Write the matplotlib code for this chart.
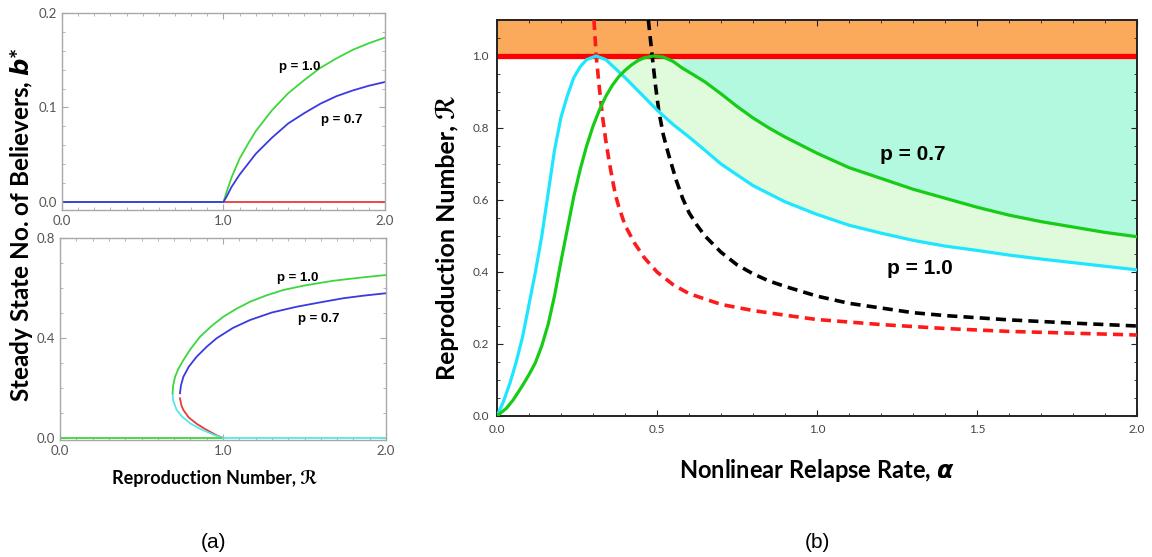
import matplotlib
matplotlib.use("Agg")
import matplotlib.pyplot as plt
from matplotlib.ticker import MultipleLocator, FixedLocator

# ---------------- data: panel (a) top ----------------
top_R_p10 = [1.0, 1.02, 1.05, 1.1, 1.15, 1.2, 1.3, 1.4, 1.5, 1.6, 1.7, 1.8, 1.9, 2.0]
top_b_p10 = [0.0, 0.011, 0.026, 0.046, 0.061, 0.075, 0.097, 0.115, 0.129, 0.142,
             0.152, 0.161, 0.168, 0.174]
top_R_p07 = [1.0, 1.02, 1.05, 1.1, 1.15, 1.2, 1.3, 1.4, 1.5, 1.6, 1.7, 1.8, 1.9, 2.0]
top_b_p07 = [0.0, 0.006, 0.016, 0.029, 0.040, 0.051, 0.068, 0.083, 0.094, 0.104,
             0.112, 0.118, 0.123, 0.127]
zero_left = [0.0, 1.0]
zero_right = [1.0, 2.0]

# ---------------- data: panel (a) bottom ----------------
bot_R_p10_up = [0.691, 0.694, 0.706, 0.725, 0.757, 0.80, 0.859, 0.93, 1.002, 1.08,
                1.166, 1.26, 1.37, 1.5, 1.677, 1.85, 2.0]
bot_b_p10_up = [0.179, 0.21, 0.245, 0.275, 0.312, 0.355, 0.405, 0.448, 0.485, 0.516,
                0.545, 0.569, 0.592, 0.61, 0.629, 0.642, 0.652]
bot_R_p10_lo = [0.691, 0.694, 0.70, 0.716, 0.75, 0.798, 0.85, 0.9, 0.95, 1.0]
bot_b_p10_lo = [0.175, 0.15, 0.139, 0.112, 0.085, 0.059, 0.04, 0.025, 0.011, 0.0]
bot_R_p07_up = [0.736, 0.742, 0.757, 0.79, 0.838, 0.9, 0.961, 1.06, 1.166, 1.3,
                1.452, 1.6, 1.738, 1.87, 2.0]
bot_b_p07_up = [0.179, 0.21, 0.245, 0.285, 0.325, 0.365, 0.399, 0.44, 0.472, 0.502,
                0.525, 0.543, 0.559, 0.57, 0.579]
bot_R_p07_lo = [0.736, 0.745, 0.757, 0.79, 0.838, 0.88, 0.92, 0.96, 1.0]
bot_b_p07_lo = [0.159, 0.13, 0.112, 0.082, 0.057, 0.04, 0.025, 0.011, 0.0]

# ---------------- data: panel (b) ----------------
alpha_p10 = [0.0, 0.02, 0.04, 0.06, 0.08, 0.10, 0.12, 0.14, 0.16, 0.18, 0.20, 0.22,
             0.24, 0.26, 0.28, 0.31, 0.34, 0.37, 0.40, 0.45, 0.50, 0.55, 0.60, 0.65,
             0.70, 0.80, 0.90, 1.0, 1.1, 1.2, 1.3, 1.4, 1.5, 1.6, 1.7, 1.8, 1.9, 2.0]
R_p10 = [0.0, 0.04, 0.09, 0.15, 0.22, 0.31, 0.40, 0.50, 0.62, 0.74, 0.83, 0.89,
         0.94, 0.97, 0.99, 1.0, 0.99, 0.965, 0.94, 0.895, 0.85, 0.81, 0.775, 0.738,
         0.70, 0.64, 0.595, 0.56, 0.53, 0.508, 0.488, 0.472, 0.46, 0.447, 0.436,
         0.426, 0.416, 0.406]
alpha_p07 = [0.0, 0.03, 0.05, 0.08, 0.10, 0.12, 0.14, 0.16, 0.18, 0.20, 0.22, 0.24,
             0.26, 0.28, 0.30, 0.32, 0.34, 0.36, 0.38, 0.40, 0.42, 0.44, 0.46, 0.49,
             0.52, 0.55, 0.58, 0.61, 0.65, 0.70, 0.75, 0.80, 0.85, 0.90, 1.0, 1.1,
             1.2, 1.3, 1.4, 1.5, 1.6, 1.7, 1.8, 1.9, 2.0]
R_p07 = [0.0, 0.022, 0.044, 0.085, 0.115, 0.148, 0.195, 0.255, 0.335, 0.43, 0.52, 0.61,
         0.685, 0.75, 0.805, 0.85, 0.888, 0.918, 0.942, 0.96, 0.975, 0.987, 0.995,
         1.0, 0.997, 0.985, 0.966, 0.95, 0.928, 0.895, 0.86, 0.828, 0.80, 0.775,
         0.73, 0.69, 0.66, 0.63, 0.605, 0.58, 0.558, 0.54, 0.525, 0.51, 0.498]
alpha_red = [0.303, 0.31, 0.32, 0.33, 0.34, 0.35, 0.36, 0.37, 0.38, 0.40, 0.43,
             0.46, 0.50, 0.55, 0.60, 0.65, 0.70, 0.80, 0.90, 1.0, 1.2, 1.4, 1.6,
             1.8, 2.0]
R_red = [1.1, 1.0, 0.91, 0.83, 0.765, 0.71, 0.66, 0.615, 0.583, 0.53, 0.48,
         0.44, 0.40, 0.365, 0.34, 0.325, 0.31, 0.293, 0.28, 0.268, 0.254, 0.243,
         0.235, 0.23, 0.225]
alpha_blk = [0.473, 0.485, 0.495, 0.506, 0.52, 0.535, 0.546, 0.56, 0.58, 0.60,
             0.625, 0.65, 0.70, 0.75, 0.80, 0.85, 0.9, 1.0, 1.1, 1.2, 1.3, 1.4,
             1.6, 1.8, 2.0]
R_blk = [1.1, 1.0, 0.92, 0.845, 0.78, 0.73, 0.697, 0.655, 0.605, 0.565,
         0.53, 0.50, 0.455, 0.42, 0.395, 0.375, 0.36, 0.333, 0.313, 0.30, 0.287,
         0.279, 0.267, 0.258, 0.25]
R_threshold = 1.0
R_top = 1.1

fig = plt.figure(figsize=(11.52, 5.57), dpi=100)

tickfont = ['Lato', 'DejaVu Sans']
labfont = ['Lato', 'DejaVu Sans']
pfont = ['Liberation Sans', 'DejaVu Sans']

def style_a(ax):
    for s in ax.spines.values():
        s.set_color('#a8a8a8')
        s.set_linewidth(1.0)
    ax.tick_params(which='both', direction='in', top=True, right=True,
                   colors='#a8a8a8', labelcolor='#555555', labelsize=9.5)
    ax.tick_params(which='major', length=4)
    ax.tick_params(which='minor', length=2)
    for t in ax.get_xticklabels() + ax.get_yticklabels():
        t.set_family(tickfont)

GREEN_A = '#3dd63d'
BLUE_A = '#3a3ae0'
RED_A = '#e83a3a'
CYAN_A = '#55e8e8'

# ---- panel (a) top ----
ax1 = fig.add_axes([62/1152, 1-210/557, 323/1152, 197/557])
ax1.plot(zero_left, [0, 0], color=GREEN_A, lw=1.3)
ax1.plot(zero_right, [0, 0], color=RED_A, lw=1.3)
ax1.plot(zero_left, [0, 0], color=BLUE_A, lw=1.3)
ax1.plot(top_R_p10, top_b_p10, color=GREEN_A, lw=1.3)
ax1.plot(top_R_p07, top_b_p07, color=BLUE_A, lw=1.3)
ax1.set_xlim(0, 2)
ax1.set_ylim(-0.0085, 0.2)
ax1.xaxis.set_major_locator(FixedLocator([0, 1, 2]))
ax1.xaxis.set_minor_locator(MultipleLocator(0.1))
ax1.yaxis.set_major_locator(FixedLocator([0.0, 0.1, 0.2]))
ax1.yaxis.set_minor_locator(MultipleLocator(0.02))
ax1.set_xticklabels(['0.0', '1.0', '2.0'])
ax1.set_yticklabels(['0.0', '0.1', '0.2'])
style_a(ax1)
ax1.text(1.47, 0.143, 'p = 1.0', fontsize=9.5, fontweight='bold', family=pfont,
         ha='center', va='center')
ax1.text(1.73, 0.087, 'p = 0.7', fontsize=9.5, fontweight='bold', family=pfont,
         ha='center', va='center')

# ---- panel (a) bottom ----
ax2 = fig.add_axes([60/1152, 1-440/557, 326/1152, 202/557])
ax2.plot(bot_R_p07_lo, bot_b_p07_lo, color=RED_A, lw=1.3)
ax2.plot(bot_R_p07_up, bot_b_p07_up, color=BLUE_A, lw=1.3)
ax2.plot(bot_R_p10_lo, bot_b_p10_lo, color=CYAN_A, lw=1.3)
ax2.plot(bot_R_p10_up, bot_b_p10_up, color=GREEN_A, lw=1.3)
ax2.plot(zero_left, [0, 0], color=GREEN_A, lw=1.3)
ax2.plot(zero_right, [0, 0], color=CYAN_A, lw=1.3)
ax2.set_xlim(0, 2)
ax2.set_ylim(-0.008, 0.8)
ax2.xaxis.set_major_locator(FixedLocator([0, 1, 2]))
ax2.xaxis.set_minor_locator(MultipleLocator(0.1))
ax2.yaxis.set_major_locator(FixedLocator([0.0, 0.4, 0.8]))
ax2.yaxis.set_minor_locator(MultipleLocator(0.1))
ax2.set_xticklabels(['0.0', '1.0', '2.0'])
ax2.set_yticklabels(['0.0', '0.4', '0.8'])
style_a(ax2)
ax2.text(1.46, 0.64, 'p = 1.0', fontsize=9.5, fontweight='bold', family=pfont,
         ha='center', va='center')
ax2.text(1.59, 0.476, 'p = 0.7', fontsize=9.5, fontweight='bold', family=pfont,
         ha='center', va='center')

fig.text(215/1152, 1-478/557, 'Reproduction Number, ℛ', fontsize=13,
         fontweight='bold', family=labfont, ha='center', va='center')
fig.text(22/1152, 1-225/557, 'Steady State No. of Believers, $\\boldsymbol{b}$*',
         fontsize=17.5, fontweight='bold', family=labfont, rotation=90,
         ha='center', va='center')
fig.text(213/1152, 1-542/557, '(a)', fontsize=15, family=['Liberation Sans', 'DejaVu Sans'],
         ha='center', va='center')

# ---- panel (b) ----
ax3 = fig.add_axes([497/1152, 1-416/557, 640/1152, 396/557])
ax3.axhspan(R_threshold, R_top, color='#faaa5a', lw=0, zorder=0)
mask10 = [a >= 0.31 for a in alpha_p10]
ax3.fill_between(alpha_p10, R_p10, R_threshold, where=mask10, color='#e0fadc',
                 lw=0, zorder=0.5)
mask07a = [a >= 0.52 for a in alpha_p07]
mask07b = [a >= 0.58 for a in alpha_p07]
ax3.fill_between(alpha_p07, R_p07, R_threshold, where=mask07a, color='#b3f9e0',
                 alpha=0.5, lw=0, zorder=0.6)
ax3.fill_between(alpha_p07, R_p07, R_threshold, where=mask07b, color='#b3f9e0',
                 lw=0, zorder=0.7)
ax3.axhline(R_threshold, color='#ff0000', lw=3.8, zorder=2)
ax3.plot(alpha_red, R_red, color='#ff1a1a', lw=2.6, ls=(0, (2.8, 1.7)), zorder=3)
ax3.plot(alpha_blk, R_blk, color='black', lw=2.6, ls=(0, (2.8, 1.7)), zorder=3)
ax3.plot(alpha_p10, R_p10, color='#1ee6ff', lw=2.3, zorder=4)
ax3.plot(alpha_p07, R_p07, color='#16cc16', lw=2.3, zorder=4)
ax3.set_xlim(0, 2)
ax3.set_ylim(0, R_top)
ax3.xaxis.set_major_locator(FixedLocator([0, 0.5, 1.0, 1.5, 2.0]))
ax3.xaxis.set_minor_locator(MultipleLocator(0.1))
ax3.yaxis.set_major_locator(FixedLocator([0, 0.2, 0.4, 0.6, 0.8, 1.0]))
ax3.yaxis.set_minor_locator(MultipleLocator(0.05))
ax3.set_xticklabels(['0.0', '0.5', '1.0', '1.5', '2.0'])
ax3.set_yticklabels(['0.0', '0.2', '0.4', '0.6', '0.8', '1.0'])
for s in ax3.spines.values():
    s.set_color('#222222')
    s.set_linewidth(1.4)
ax3.tick_params(which='both', direction='in', top=True, right=True,
                colors='#222222', labelcolor='#444444', labelsize=8.5)
ax3.tick_params(which='major', length=4, pad=6)
ax3.tick_params(which='minor', length=2.5)
for t in ax3.get_xticklabels() + ax3.get_yticklabels():
    t.set_family(tickfont)
ax3.text(1.30, 0.725, 'p = 0.7', fontsize=15, fontweight='bold', family=pfont,
         ha='center', va='center', zorder=5)
ax3.text(1.32, 0.41, 'p = 1.0', fontsize=15, fontweight='bold', family=pfont,
         ha='center', va='center', zorder=5)

fig.text(817/1152, 1-471/557, 'Nonlinear Relapse Rate, $\\boldsymbol{\\alpha}$', fontsize=17,
         fontweight='bold', family=labfont, ha='center', va='center')
fig.text(447/1152, 1-238/557, 'Reproduction Number, ℛ', fontsize=18,
         fontweight='bold', family=labfont, rotation=90, ha='center', va='center')
fig.text(817/1152, 1-542/557, '(b)', fontsize=15, family=['Liberation Sans', 'DejaVu Sans'],
         ha='center', va='center')

fig.savefig('out.png', dpi=100)
